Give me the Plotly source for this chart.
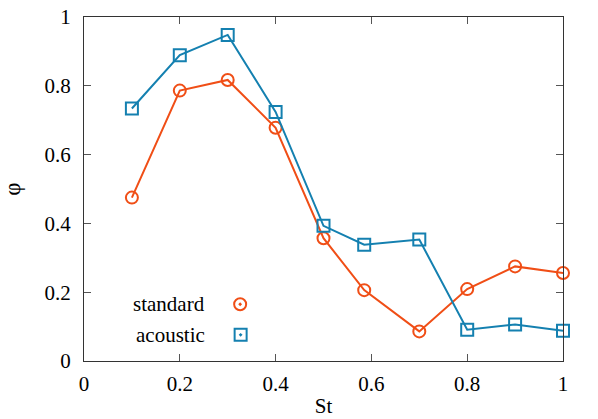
import plotly.graph_objects as go

st = [0.1, 0.2, 0.3, 0.4, 0.5, 0.585, 0.7, 0.8, 0.9, 1.0]
phi_standard = [0.475, 0.786, 0.817, 0.678, 0.357, 0.206, 0.086, 0.209, 0.275, 0.256]
phi_acoustic = [0.734, 0.889, 0.948, 0.724, 0.393, 0.338, 0.353, 0.091, 0.106, 0.088]
series_names = ['standard', 'acoustic']

red = '#f04e16'
blue = '#1480b0'
font = '"Times New Roman", "Liberation Serif", serif'

fig = go.Figure()

fig.add_trace(go.Scatter(
    x=st, y=phi_standard, mode='lines+markers', name=series_names[0],
    line=dict(color=red, width=2),
    marker=dict(symbol='circle-open', size=12, color=red, line=dict(width=2)),
    showlegend=False, cliponaxis=False,
))
fig.add_trace(go.Scatter(
    x=st, y=phi_acoustic, mode='lines+markers', name=series_names[1],
    line=dict(color=blue, width=2),
    marker=dict(symbol='square-open', size=12, color=blue, line=dict(width=2)),
    showlegend=False, cliponaxis=False,
))

# gnuplot-style key: right-aligned text, point symbol to the right
key_y = [0.165, 0.076]
fig.add_trace(go.Scatter(
    x=[0.326, 0.327], y=key_y, mode='markers', xaxis='x2', yaxis='y2',
    marker=dict(symbol=['circle-open-dot', 'square-open-dot'], size=12,
                color=[red, blue], line=dict(width=2)),
    showlegend=False, hoverinfo='skip',
))
for name, yk in zip(series_names, key_y):
    fig.add_annotation(x=0.257, y=yk, xref='x2', yref='y2', text=name,
                       showarrow=False, xanchor='right', yanchor='middle',
                       font=dict(family=font, size=21, color='black'))

axis_common = dict(
    range=[0, 1], showgrid=False, zeroline=False, automargin=False,
    showline=True, linecolor='#333333', linewidth=1.3, mirror='ticks',
    ticks='inside', ticklen=7, tickwidth=1, tickcolor='#555555',
    tickfont=dict(family=font, size=21, color='black'),
)

fig.update_layout(
    width=598, height=419,
    margin=dict(l=84, r=35, t=17, b=58),
    plot_bgcolor='white', paper_bgcolor='white',
    font=dict(family=font, size=21, color='black'),
    xaxis=dict(**axis_common, dtick=0.2, ticklabelstandoff=4,
               title=dict(text='St', font=dict(family=font, size=21, color='black'), standoff=2)),
    yaxis=dict(**axis_common, dtick=0.2, ticklabelstandoff=8,
               title=dict(text='φ', font=dict(family=font, size=23, color='black'), standoff=22)),
    xaxis2=dict(range=[0, 1], overlaying='x', visible=False),
    yaxis2=dict(range=[0, 1], overlaying='y', visible=False),
)

fig.write_html('out.html', config={'displayModeBar': False},
               post_script="document.body.style.margin='0';")
